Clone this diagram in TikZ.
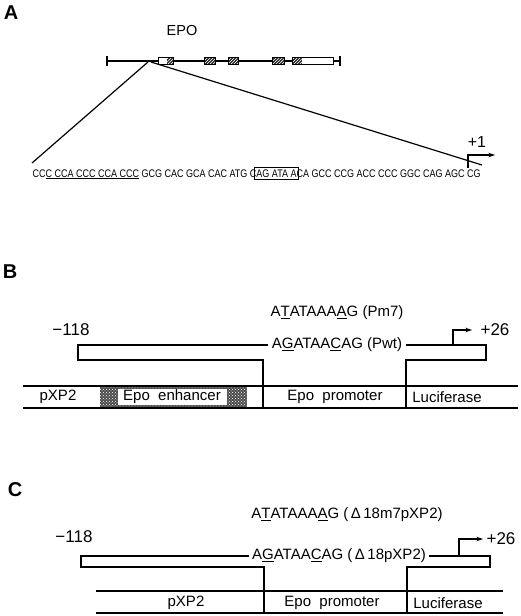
\documentclass[tikz,border=0pt]{standalone}
\usepackage{fontspec}
\usepackage{graphicx}
\setmainfont{Liberation Sans}
\usetikzlibrary{arrows.meta,patterns}
\newcommand{\seqbox}[1]{{\fboxsep=1.6pt\fboxrule=0.7pt\kern-\fboxsep\kern-\fboxrule\fbox{#1}\kern-\fboxsep\kern-\fboxrule}}
\begin{document}
\begin{tikzpicture}[x=1pt,y=-1pt,line width=1.2pt,
  lbl/.style={font=\fontsize{20}{20}\selectfont\bfseries, inner sep=0pt},
  txt/.style={font=\fontsize{15}{15}\selectfont, inner sep=1pt},
  num/.style={font=\fontsize{17}{17}\selectfont, inner sep=1pt},
  tss/.style={-{Stealth[length=6.5pt,width=4.5pt]}},
  hatch/.style={fill=black!85, postaction={pattern=north east lines, pattern color=white}},
  exon/.style={draw, line width=0.9pt},
]
\useasboundingbox (0,0) rectangle (520,616);

% ---------------- Panel A ----------------
\node[lbl] (labA) at (11,13) {A};
\node[font=\fontsize{14.5}{14.5}\selectfont] (epo) at (182,31) {EPO};

\coordinate (gL) at (107,61);
\coordinate (gR) at (340,61);
\draw (gL) -- (gR);
\draw (107,56) -- (107,66);
\draw (340,56) -- (340,66);

% exons
\fill[white] (158,57) rectangle (167,64);
\path[hatch] (167,57) rectangle (173,64);
\draw[exon] (158,57) rectangle (173,64);
\path[hatch] (204,57) rectangle (215,64);
\draw[exon] (204,57) rectangle (215,64);
\path[hatch] (228,57) rectangle (238,64);
\draw[exon] (228,57) rectangle (238,64);
\path[hatch] (272,57) rectangle (284,64);
\draw[exon] (272,57) rectangle (284,64);
\path[hatch] (292,57) rectangle (302,64);
\fill[white] (302,57) rectangle (333,64);
\draw[exon] (292,57) rectangle (333,64);

\coordinate (apL) at (148,62);
\coordinate (apR) at (151,62);
\coordinate (sL) at (32,163);
\coordinate (sR) at (482,165);
\draw (apL) -- (sL);
\draw (apR) -- (sR);

\node[anchor=base west, inner sep=0pt, font=\fontsize{10}{10}\selectfont] (seq) at (32,177)
  {\scalebox{0.9}[1.1]{CC\underline{C CCA CCC CCA CCC} GCG CAC GCA CAC ATG C\seqbox{AG ATA A}CA GCC CCG ACC CCC GGC CAG AGC CG}};

\coordinate (tA0) at (468,168);
\coordinate (tA1) at (495,155);
\draw[tss] (tA0) |- (tA1);
\node[font=\fontsize{16}{16}\selectfont, inner sep=0pt] (p1) at (477,142) {+1};

% ---------------- Panel B ----------------
\node[lbl] (labB) at (10,272) {B};
\node[txt] (pm7) at (337,313) {A\underline{T}ATAAA\underline{A}G (Pm7)};
\node[num] (mB) at (71,330) {−118};
\node[txt, fill=white, inner xsep=3pt] (pwt) at (337,345) {A\underline{G}ATAA\underline{C}AG (Pwt)};

\coordinate (bTL) at (78,345);
\coordinate (bTR) at (486,345);
\coordinate (bBL) at (78,360);
\coordinate (bBR) at (486,360);
\coordinate (bD1) at (263,360);
\coordinate (bD2) at (406,360);
\coordinate (bD1b) at (263,408);
\coordinate (bD2b) at (406,408);
\draw (pwt.west) -- (bTL) -- (bBL) -- (bD1) -- (bD1b);
\draw (pwt.east) -- (bTR) -- (bBR) -- (bD2) -- (bD2b);

\coordinate (tB0) at (453,345);
\coordinate (tB1) at (472,330);
\draw[tss] (tB0) |- (tB1);
\node[num] (p26B) at (495,330) {+26};

% construct B
\path[fill=black!70, postaction={pattern=crosshatch dots, pattern color=white}] (100,386) rectangle (247,408);
\fill[white] (118,389) rectangle (227,405);
\draw (23,386) -- (518,386);
\draw (23,408) -- (518,408);
\node[txt] (xpB) at (58,397) {pXP2};
\node[txt] (enh) at (172,397) {Epo\ \ enhancer};
\node[txt] (proB) at (335,397) {Epo\ \ promoter};
\node[txt] (lucB) at (447,397) {Luciferase};

% ---------------- Panel C ----------------
\node[lbl] (labC) at (15,490) {C};
\node[txt] (m7C) at (347,515) {A\underline{T}ATAAA\underline{A}G (\,Δ\,18m7pXP2)};
\node[num] (mC) at (74,537) {−118};
\node[txt, fill=white, inner xsep=3pt] (wtC) at (339,556) {A\underline{G}ATAA\underline{C}AG (\,Δ\,18pXP2)};

\coordinate (cTL) at (81,556);
\coordinate (cTR) at (490,556);
\coordinate (cBL) at (81,567);
\coordinate (cBR) at (490,567);
\coordinate (cD1) at (264,567);
\coordinate (cD2) at (407,567);
\coordinate (cD1b) at (264,613);
\coordinate (cD2b) at (407,613);
\draw (wtC.west) -- (cTL) -- (cBL) -- (cD1) -- (cD1b);
\draw (wtC.east) -- (cTR) -- (cBR) -- (cD2) -- (cD2b);

\coordinate (tC0) at (459,556);
\coordinate (tC1) at (483,539);
\draw[tss] (tC0) |- (tC1);
\node[num] (p26C) at (501,539) {+26};

\draw (96,591) -- (503,591);
\draw (96,613) -- (503,613);
\node[txt] (xpC) at (186,603) {pXP2};
\node[txt] (proC) at (332,603) {Epo\ \ promoter};
\node[txt] (lucC) at (448,603) {Luciferase};
\end{tikzpicture}
\end{document}
